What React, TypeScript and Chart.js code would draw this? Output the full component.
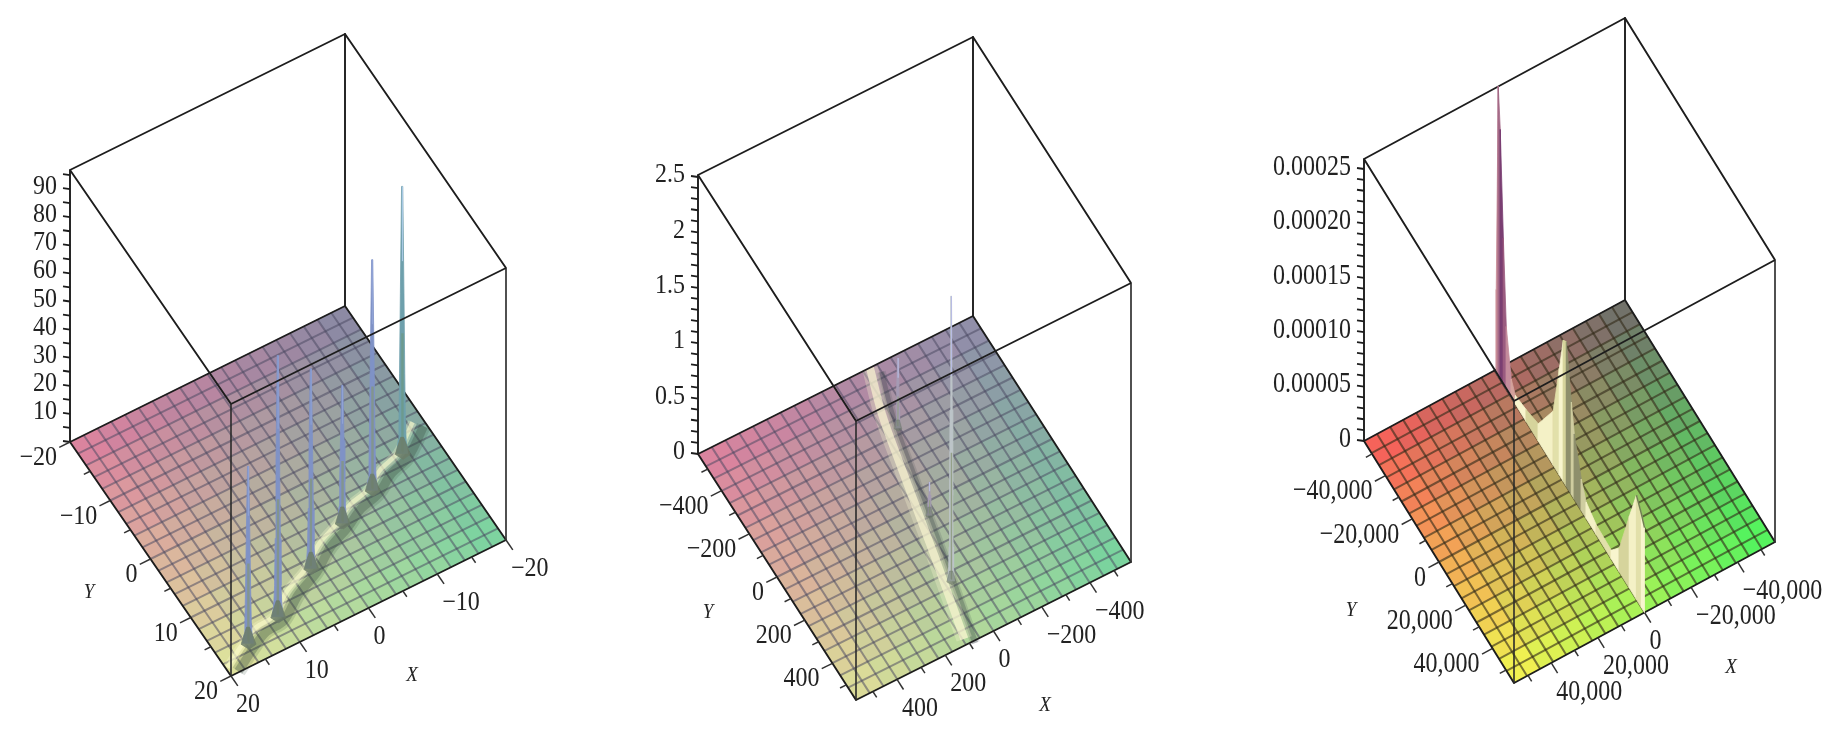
import React, { useEffect, useRef } from "react";
import { Chart, registerables } from "chart.js";

Chart.register(...registerables);

// ---- values ---------------------------------------------------------------
const zTicks1 = [10, 20, 30, 40, 50, 60, 70, 80, 90];
const zTicks2 = [0, 0.5, 1, 1.5, 2, 2.5];
const zTicks3 = [0, 0.00005, 0.0001, 0.00015, 0.0002, 0.00025];
const zLabels1 = ["10", "20", "30", "40", "50", "60", "70", "80", "90"];
const zLabels2 = ["0", "0.5", "1", "1.5", "2", "2.5"];
const zLabels3 = ["0", "0.00005", "0.00010", "0.00015", "0.00020", "0.00025"];

const xyTicks1 = [-20, -10, 0, 10, 20];
const xyTicks2 = [-400, -200, 0, 200, 400];
const xyTicks3 = [-40000, -20000, 0, 20000, 40000];
const xyLabels1 = ["\u221220", "\u221210", "0", "10", "20"];
const xyLabels2 = ["\u2212400", "\u2212200", "0", "200", "400"];
const xyLabels3 = ["\u221240,000", "\u221220,000", "0", "20,000", "40,000"];

const spikeX1 = [15.7, 10.5, 3.3, -3.5, -9.2, -15.2];
const spikeY1 = [16.9, 15.4, 11.3, 7.5, 5.2, 2.4];
const spikeZ1 = [63, 93, 71, 49, 82, 95];
const ridgeX1 = [19.2, 15.7, 13.2, 10.5, 7.0, 3.3, 0.0, -3.5, -6.2, -9.2, -12.2, -15.2, -19.2];
const ridgeY1 = [19.0, 16.9, 15.7, 15.4, 13.0, 11.3, 9.0, 7.5, 6.0, 5.2, 3.4, 2.4, -0.6];

const spikeX2 = [-109, -32, 32];
const spikeY2 = [-310, 51, 320];
const spikeZ2 = [0.63, 0.3, 2.57];
const ridgeX2 = [-158, -103, -55, 18, 92];
const ridgeY2 = [-560, -379, -153, 211, 555];

const curtainY3 = [-54700, -53200, -51700, -49400, -47200, -43500, -40400, -32300, -23300, -12100, -7600, -4600, -2300, 1400, 3600, 8800, 12500, 20000, 31200, 37200, 44700, 50000, 53700, 56000];
const curtainZ3 = [0.000077, 0.000267, 0.00023, 0.000135, 0.000058, 0.000017, 0.000008, 0.000011, 0.000016, 0.00005, 0.000098, 0.00013, 0.000133, 0.000085, 0.00006, 0.000029, 0.000015, 0.000009, 0.000008, 0.000022, 0.000066, 0.000096, 0.000086, 0.000078];

// ---- drawing set-up (geometry and style of the three boxes) ----------------
type Pt = { x: number; y: number };
type Panel = {
  lim: number; back: Pt; left: Pt; right: Pt; zPx: number; boxH: number;
  minorZ: number; zMax: number; minorXY: number;
  colors: number[][]; gridColor: string; nCells: number;
  yName: Pt; xName: Pt; stretch: number;
};

const hex = (h: string) => [parseInt(h.slice(1, 3), 16), parseInt(h.slice(3, 5), 16), parseInt(h.slice(5, 7), 16)];

const panel1: Panel = {
  lim: 20, back: { x: 345, y: 306 }, left: { x: 70, y: 442 }, right: { x: 506, y: 540 }, zPx: 2.81, boxH: 272,
  minorZ: 5, zMax: 95, minorXY: 5,
  colors: [hex("#8a86a4"), hex("#de7e9e"), hex("#78d6a0"), hex("#e2e69c")],
  gridColor: "rgba(72,70,95,0.52)", nCells: 20, yName: { x: 89, y: 592 }, xName: { x: 412, y: 675 }, stretch: 1.12,
};
const panel2: Panel = {
  lim: 570, back: { x: 973, y: 316 }, left: { x: 698, y: 454 }, right: { x: 1131, y: 562 }, zPx: 110.8, boxH: 279,
  minorZ: 0.1, zMax: 2.5, minorXY: 100,
  colors: [hex("#8e8caa"), hex("#de7e9e"), hex("#74d69e"), hex("#e0e098")],
  gridColor: "rgba(72,70,95,0.52)", nCells: 20, yName: { x: 708, y: 612 }, xName: { x: 1045, y: 705 }, stretch: 1.14,
};
const panel3: Panel = {
  lim: 56000, back: { x: 1625, y: 300 }, left: { x: 1364, y: 441 }, right: { x: 1775, y: 542 }, zPx: 1088000, boxH: 282,
  minorZ: 0.00001, zMax: 0.00025, minorXY: 10000,
  colors: [hex("#6c6c6c"), hex("#fc5a5a"), hex("#4cfa5e"), hex("#f8f850")],
  gridColor: "rgba(50,42,25,0.62)", nCells: 20, yName: { x: 1351, y: 610 }, xName: { x: 1731, y: 667 }, stretch: 1.24,
};

const project = (p: Panel, X: number, Y: number, Z = 0): Pt => {
  const a = (X + p.lim) / (2 * p.lim);
  const b = (Y + p.lim) / (2 * p.lim);
  return {
    x: p.back.x + a * (p.left.x - p.back.x) + b * (p.right.x - p.back.x),
    y: p.back.y + a * (p.left.y - p.back.y) + b * (p.right.y - p.back.y) - Z * p.zPx,
  };
};

const profileF = [0, 0.05, 0.12, 0.3, 0.6, 1];
const profileW = [5.5, 4, 3.2, 2.6, 1.8, 0.6];

function buildDatasets() {
  const ds: any[] = [];
  const poly = (pts: Pt[], color: string) =>
    ds.push({ data: [...pts, pts[0]], showLine: true, fill: "shape", backgroundColor: color, borderColor: color, borderWidth: 0.8, pointRadius: 0, tension: 0, clip: false });
  const line = (pts: Pt[], color: string, w: number, tension = 0) =>
    ds.push({ data: pts, showLine: true, fill: false, borderColor: color, borderWidth: w, pointRadius: 0, tension, clip: false, borderCapStyle: "butt", borderJoinStyle: "round" });

  const surface = (p: Panel) => {
    const n = p.nCells;
    const L = p.lim;
    const step = (2 * L) / n;
    for (let i = 0; i < n; i++) {
      for (let j = 0; j < n; j++) {
        const a = Math.floor((i + 0.5) / 2) * 2 / n + 1 / n;
        const b = Math.floor((j + 0.5) / 2) * 2 / n + 1 / n;
        const c = p.colors;
        const col = [0, 1, 2].map((k) =>
          Math.round(c[0][k] * (1 - a) * (1 - b) + c[1][k] * a * (1 - b) + c[2][k] * (1 - a) * b + c[3][k] * a * b));
        const X0 = -L + i * step;
        const Y0 = -L + j * step;
        poly([project(p, X0, Y0), project(p, X0 + step, Y0), project(p, X0 + step, Y0 + step), project(p, X0, Y0 + step)], `rgb(${col.join(",")})`);
      }
    }
  };
  const grid = (p: Panel) => {
    const L = p.lim;
    const step = (2 * L) / p.nCells;
    for (let i = 1; i < p.nCells; i++) {
      const v = -L + i * step;
      line([project(p, v, -L), project(p, v, L)], p.gridColor, 2);
      line([project(p, -L, v), project(p, L, v)], p.gridColor, 2);
    }
  };
  const ridge = (p: Panel, xs: number[], ys: number[], dark: number[], cream: number[], wD: number, wC: number, alpha: number) => {
    const base = xs.map((x, i) => project(p, x, ys[i]));
    const shift = (dx: number, dy: number) => base.map((q) => ({ x: q.x + dx, y: q.y + dy }));
    const rgba = (c: number[], a: number) => `rgba(${c[0]},${c[1]},${c[2]},${a})`;
    line(shift(6, 4), rgba(dark, 0.16), wD * 1.6, 0.35);
    line(shift(6, 4), rgba(dark, 0.3), wD, 0.35);
    line(shift(-5, 0), rgba(cream, 0.3), wC * 2, 0.35);
    line(shift(-5, 0), rgba(cream, alpha), wC, 0.35);
  };
  const spike = (p: Panel, X: number, Y: number, Z: number, body: string, core: string, tip: string, foot: string, scale: number) => {
    const base = project(p, X, Y);
    const H = Z * p.zPx;
    const at = (f: number, side: number, i: number): Pt => ({ x: base.x + side * profileW[i] * scale, y: base.y - f * H });
    const idx = profileF.map((_, i) => i);
    poly([...idx.map((i) => at(profileF[i], -1, i)), ...idx.slice().reverse().map((i) => at(profileF[i], 1, i))], body);
    line([{ x: base.x, y: base.y - 2 }, { x: base.x + 0.3, y: base.y - H * 0.45 }], core, 2.4 * scale);
    line([{ x: base.x + 0.3, y: base.y - H * 0.72 }, { x: base.x + 0.3, y: base.y - H }], tip, 1.1);
    poly([{ x: base.x - 7 * scale, y: base.y + 1 }, { x: base.x - 1.5, y: base.y - 16 * scale }, { x: base.x + 1.5, y: base.y - 16 * scale }, { x: base.x + 8 * scale, y: base.y + 1 }, { x: base.x + 1, y: base.y + 6 * scale }], foot);
  };
  const box = (p: Panel, frontOnly: boolean) => {
    const L = p.lim;
    const b = project(p, -L, -L), l = project(p, L, -L), r = project(p, -L, L), f = project(p, L, L);
    const up = (q: Pt): Pt => ({ x: q.x, y: q.y - p.boxH });
    const black = "#1d1d1d";
    if (!frontOnly) {
      line([l, b, r, f, l], black, 1.9);
      line([up(l), l], black, 1.9);
      line([up(b), b], black, 1.9);
      line([up(r), r], "#333", 1.7);
      line([up(l), up(b), up(r)], black, 1.9);
      // z axis ticks
      const zs: number[] = [];
      for (let z = 0; z <= p.zMax + p.minorZ / 100; z += p.minorZ) zs.push(z);
      zs.forEach((z) => {
        const q = { x: l.x, y: l.y - z * p.zPx };
        line([q, { x: q.x - 7, y: q.y - 1 }], black, 1.8);
      });
      const dirY = { x: (l.x - b.x) / Math.hypot(l.x - b.x, l.y - b.y), y: (l.y - b.y) / Math.hypot(l.x - b.x, l.y - b.y) };
      const dirX = { x: (r.x - b.x) / Math.hypot(r.x - b.x, r.y - b.y), y: (r.y - b.y) / Math.hypot(r.x - b.x, r.y - b.y) };
      const first = Math.ceil(-L / p.minorXY) * p.minorXY;
      for (let v = first; v <= L; v += p.minorXY) {
        const major = Math.round(v / p.minorXY) % 2 === 0;
        const len = major ? 12 : 7;
        const qy = project(p, L, v);
        line([qy, { x: qy.x + dirY.x * len, y: qy.y + dirY.y * len }], "#333", 1.5);
        const qx = project(p, v, L);
        line([qx, { x: qx.x + dirX.x * len, y: qx.y + dirX.y * len }], "#333", 1.5);
      }
    } else {
      line([up(l), up(f), up(r)], black, 1.9);
      line([up(f), f], "#2b2b2b", 1.6);
    }
  };

  // panel 1
  surface(panel1); grid(panel1);
  ridge(panel1, ridgeX1, ridgeY1, [52, 72, 58], [252, 252, 205], 9, 4.5, 0.6);
  box(panel1, false);
  spikeX1.forEach((x, i) => spike(panel1, x, spikeY1[i], spikeZ1[i], i === 5 ? "#6ea0ac" : "#7f92c6", i === 5 ? "#6d9a8e" : "#82958e", i === 5 ? "#a8c8e4" : "#8fa2d6", "rgba(108,124,104,0.85)", 1));
  box(panel1, true);

  // panel 2
  surface(panel2); grid(panel2);
  ridge(panel2, ridgeX2, ridgeY2, [60, 70, 72], [250, 246, 210], 6, 8, 0.68);
  box(panel2, false);
  spikeX2.forEach((x, i) => spike(panel2, x, spikeY2[i], spikeZ2[i], i === 2 ? "#bcc4c8" : "#a59bb4", "#94a088", "#b8bce4", "rgba(110,122,108,0.55)", i === 2 ? 0.62 : 0.5));
  box(panel2, true);

  // panel 3
  surface(panel3); grid(panel3);
  box(panel3, false);
  const tall = ["#c88a96", "#a46a88", "#7a3f72", "#9a5c80", "#c48c9c", "#d4a29c", "#c8a08c"];
  const cream = ["#f4f1c6", "#e2e0aa", "#f8f5ce", "#d6d49c"];
  curtainY3.slice(0, -1).forEach((y, i) => {
    const y2 = curtainY3[i + 1];
    const isTall = i < 6;
    const descending = curtainZ3[i + 1] < curtainZ3[i] - 0.00001;
    const col = isTall ? tall[i] : descending ? (i % 2 ? "#cfcda0" : "#8e8f6c") : cream[i % 4];
    poly([project(panel3, 0, y), project(panel3, 0, y2), project(panel3, 0, y2, curtainZ3[i + 1]), project(panel3, 0, y, curtainZ3[i])], col);
  });
  line(curtainY3.slice(-3).map((y, i) => project(panel3, 0, y, curtainZ3[curtainZ3.length - 3 + i])), "#6f7f52", 1.5);
  box(panel3, true);

  return ds.reverse();
}

const labelsPlugin = {
  id: "boxLabels",
  afterDatasetsDraw(chart: any) {
    const { ctx, scales } = chart;
    const px = (q: Pt) => ({ x: scales.x.getPixelForValue(q.x), y: scales.y.getPixelForValue(q.y) });
    const text = (s: string, q: Pt, align: CanvasTextAlign, stretch: number, font = '24px "Liberation Serif"') => {
      const r = px(q);
      ctx.save();
      ctx.fillStyle = "#222";
      ctx.textBaseline = "middle";
      ctx.font = font;
      ctx.textAlign = align;
      ctx.translate(r.x, r.y);
      ctx.scale(1, stretch);
      ctx.fillText(s, 0, 0);
      ctx.restore();
    };
    const draw = (p: Panel, zt: number[], zl: string[], xt: number[], xl: string[]) => {
      const l = project(p, p.lim, -p.lim);
      zt.forEach((z, i) => text(zl[i], { x: l.x - 13, y: l.y - z * p.zPx - 2 }, "right", p.stretch));
      xt.forEach((v, i) => {
        const qy = project(p, p.lim, v);
        text(xl[i], { x: qy.x - 13, y: qy.y + 16 }, "right", p.stretch);
        const qx = project(p, v, p.lim);
        text(xl[i], { x: qx.x + 5, y: qx.y + 29 }, "left", p.stretch);
      });
      text("Y", p.yName, "center", 1.1, 'italic 19px "Liberation Serif"');
      text("X", p.xName, "center", 1.1, 'italic 19px "Liberation Serif"');
    };
    draw(panel1, zTicks1, zLabels1, xyTicks1, xyLabels1);
    draw(panel2, zTicks2, zLabels2, xyTicks2, xyLabels2);
    draw(panel3, zTicks3, zLabels3, xyTicks3, xyLabels3);
  },
};

export default function App() {
  const ref = useRef<HTMLCanvasElement>(null);
  useEffect(() => {
    document.body.style.margin = "0";
    document.body.style.background = "#fff";
    const chart = new Chart(ref.current as HTMLCanvasElement, {
      type: "scatter",
      data: { datasets: buildDatasets() },
      options: {
        animation: false,
        responsive: false,
        devicePixelRatio: 1,
        layout: { padding: 0 },
        plugins: { legend: { display: false }, tooltip: { enabled: false }, title: { display: false } },
        events: [],
        scales: {
          x: { type: "linear", display: false, min: 0, max: 1834 },
          y: { type: "linear", display: false, min: 0, max: 736, reverse: true },
        },
      },
      plugins: [labelsPlugin],
    } as any);
    return () => chart.destroy();
  }, []);
  return <canvas ref={ref} width={1834} height={736} style={{ display: "block", width: 1834, height: 736 }} />;
}
